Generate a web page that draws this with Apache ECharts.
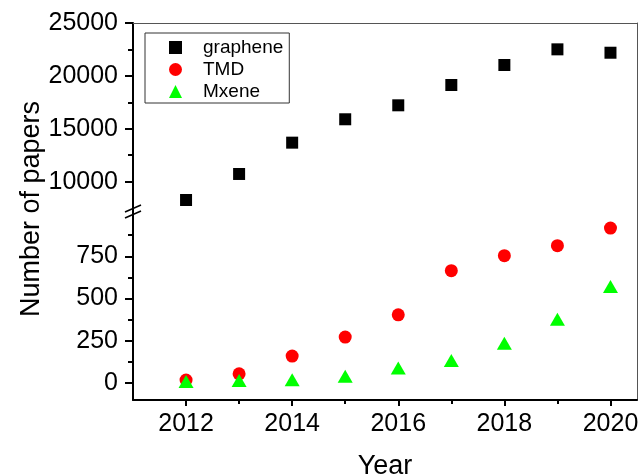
<!DOCTYPE html>
<html>
<head>
<meta charset="utf-8">
<script src="https://cdn.jsdelivr.net/npm/echarts@6/dist/echarts.min.js"></script>
<style>html,body{margin:0;padding:0;background:#fff}#c{width:641px;height:474px}</style>
</head>
<body>
<div id="c"></div>
<script>
var years = [2012, 2013, 2014, 2015, 2016, 2017, 2018, 2019, 2020];
var graphene = [8270, 10730, 13690, 15900, 17220, 19140, 21030, 22510, 22190];
var tmd = [18, 55, 160, 272, 404, 665, 754, 813, 917];
var mxene = [10, 16, 20, 40, 89, 133, 236, 377, 572];
var xMajor = [2012, 2014, 2016, 2018, 2020];
var xMinor = [2013, 2015, 2017, 2019];
var yTopMajor = [10000, 15000, 20000, 25000];
var yTopMinor = [12500, 17500, 22500];
var yLowMajor = [0, 250, 500, 750];
var yLowMinor = [125, 375, 625, 875];

function pairs(xs, ys) { return xs.map(function (x, i) { return [x, ys[i]]; }); }
function plain(v) { return String(v); }

var FONT = 'Liberation Sans';
var chart = echarts.init(document.getElementById('c'), null, { renderer: 'canvas' });
var blackLine = { show: true, onZero: false, lineStyle: { color: '#000', width: 2 } };
var grayLine = { show: true, onZero: false, lineStyle: { color: '#555', width: 1 } };
var noLine = { show: false, onZero: false };

var option = {
  animation: false,
  backgroundColor: '#fff',
  textStyle: { fontFamily: FONT },
  grid: [
    { left: 133, right: 4, top: 23, height: 188, containLabel: false, outerBoundsMode: 'none' },
    { left: 133, right: 4, top: 211, height: 189, containLabel: false, outerBoundsMode: 'none' }
  ],
  xAxis: [
    { type: 'value', gridIndex: 0, min: 2011, max: 2020.5, position: 'top',
      axisLine: grayLine, axisTick: { show: false }, axisLabel: { show: false }, splitLine: { show: false } },
    { type: 'value', gridIndex: 1, min: 2011, max: 2020.5, position: 'bottom',
      axisLine: blackLine,
      axisTick: { show: true, inside: false, length: 6, customValues: xMajor, lineStyle: { color: '#000', width: 2 } },
      axisLabel: { show: true, customValues: xMajor, formatter: plain, fontSize: 25, color: '#000', margin: 12, fontFamily: FONT },
      splitLine: { show: false },
      name: 'Year', nameLocation: 'middle', nameGap: 53,
      nameTextStyle: { fontSize: 27, color: '#000', fontFamily: FONT } },
    { type: 'value', gridIndex: 1, min: 2011, max: 2020.5, position: 'bottom',
      axisLine: noLine,
      axisTick: { show: true, inside: false, length: 4, customValues: xMinor, lineStyle: { color: '#000', width: 2 } },
      axisLabel: { show: false }, splitLine: { show: false } }
  ],
  yAxis: [
    { type: 'value', gridIndex: 0, min: 7230, max: 25000, position: 'left',
      axisLine: blackLine,
      axisTick: { show: true, length: 8, customValues: yTopMajor, lineStyle: { color: '#000', width: 2 } },
      axisLabel: { show: true, customValues: yTopMajor, formatter: plain, fontSize: 25, color: '#000', margin: 15, fontFamily: FONT },
      splitLine: { show: false } },
    { type: 'value', gridIndex: 0, min: 7230, max: 25000, position: 'left',
      axisLine: noLine,
      axisTick: { show: true, length: 5, customValues: yTopMinor, lineStyle: { color: '#000', width: 2 } },
      axisLabel: { show: false }, splitLine: { show: false } },
    { type: 'value', gridIndex: 0, min: 7230, max: 25000, position: 'right',
      axisLine: grayLine, axisTick: { show: false }, axisLabel: { show: false }, splitLine: { show: false } },
    { type: 'value', gridIndex: 1, min: -100, max: 1018, position: 'left',
      axisLine: blackLine,
      axisTick: { show: true, length: 8, customValues: yLowMajor, lineStyle: { color: '#000', width: 2 } },
      axisLabel: { show: true, customValues: yLowMajor, formatter: plain, fontSize: 25, color: '#000', margin: 15, fontFamily: FONT },
      splitLine: { show: false } },
    { type: 'value', gridIndex: 1, min: -100, max: 1018, position: 'left',
      axisLine: noLine,
      axisTick: { show: true, length: 5, customValues: yLowMinor, lineStyle: { color: '#000', width: 2 } },
      axisLabel: { show: false }, splitLine: { show: false } },
    { type: 'value', gridIndex: 1, min: -100, max: 1018, position: 'right',
      axisLine: grayLine, axisTick: { show: false }, axisLabel: { show: false }, splitLine: { show: false } }
  ],
  legend: {
    orient: 'vertical', left: 145, top: 33,
    borderColor: '#333', borderWidth: 1, borderRadius: 0,
    padding: [5, 6, 2, 24], itemGap: 3, itemWidth: 13, itemHeight: 13,
    textStyle: { fontSize: 19, color: '#000', fontFamily: FONT, padding: [0, 0, 0, 16] },
    data: [
      { name: 'graphene', icon: 'rect' },
      { name: 'TMD', icon: 'circle' },
      { name: 'Mxene', icon: 'triangle' }
    ]
  },
  graphic: [
    { type: 'text', x: 32, y: 209, rotation: Math.PI / 2,
      style: { text: 'Number of papers', fontSize: 27, fontFamily: FONT, fill: '#000', align: 'center', verticalAlign: 'middle' } },
    { type: 'line', shape: { x1: 125, y1: 212, x2: 141, y2: 205 }, style: { stroke: '#000', lineWidth: 1.5 } },
    { type: 'line', shape: { x1: 125, y1: 218, x2: 141, y2: 211 }, style: { stroke: '#000', lineWidth: 1.5 } }
  ],
  series: [
    { name: 'graphene', type: 'scatter', xAxisIndex: 0, yAxisIndex: 0, symbol: 'rect', symbolSize: 12,
      itemStyle: { color: '#000', opacity: 1 }, data: pairs(years, graphene), z: 3 },
    { name: 'TMD', type: 'scatter', xAxisIndex: 1, yAxisIndex: 3, symbol: 'circle', symbolSize: 13,
      itemStyle: { color: '#ff0000', opacity: 1 }, data: pairs(years, tmd), z: 3 },
    { name: 'Mxene', type: 'scatter', xAxisIndex: 1, yAxisIndex: 3, symbol: 'triangle', symbolSize: [15, 13],
      itemStyle: { color: '#00ff00', opacity: 1 }, data: pairs(years, mxene), z: 4 }
  ]
};
chart.setOption(option);
</script>
</body>
</html>
